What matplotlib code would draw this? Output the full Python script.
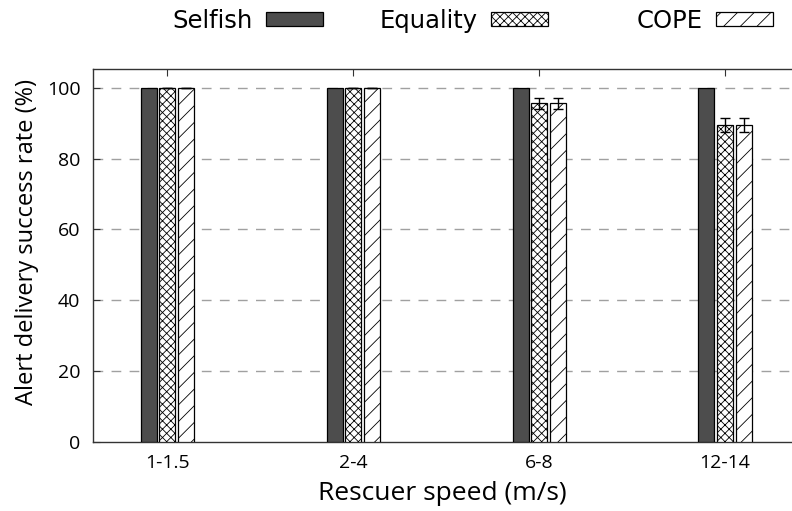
import numpy as np
import matplotlib
matplotlib.use('Agg')
import matplotlib.pyplot as plt
from matplotlib.patches import Patch

plt.rcParams['font.family'] = ['Open Sans', 'DejaVu Sans']
plt.rcParams['hatch.linewidth'] = 0.6

# data
speeds = ['1-1.5', '2-4', '6-8', '12-14']
selfish = [100, 100, 100, 100]
equality = [100, 100, 95.6, 89.5]
equality_err = [0, 0, 1.5, 1.9]
cope = [100, 100, 95.6, 89.5]
cope_err = [0, 0, 1.5, 1.9]

x = np.arange(len(speeds))
w = 0.086
step = 0.1

fig = plt.figure(figsize=(7.92, 5.11), dpi=100)
ax = fig.add_axes([93 / 792, 1 - 442 / 511, 1 - 93 / 792, (442 - 69) / 511])

ax.bar(x - step, selfish, w, color='#4d4d4d', edgecolor='black', linewidth=0.9, zorder=3)
ax.bar(x, equality, w, color='white', edgecolor='black', hatch='xxxx', linewidth=0.9, zorder=3)
ax.bar(x + step, cope, w, color='white', edgecolor='black', hatch='//', linewidth=0.9, zorder=3)
ax.errorbar(x, equality, yerr=equality_err, fmt='none', ecolor='black', elinewidth=1, capsize=3.6, capthick=1, zorder=4)
ax.errorbar(x + step, cope, yerr=cope_err, fmt='none', ecolor='black', elinewidth=1, capsize=3.6, capthick=1, zorder=4)

ax.set_xlim(-0.4, 3.36)
ax.set_ylim(0, 105.3)
ax.set_xticks(x)
ax.set_xticklabels(speeds)
ax.set_yticks([0, 20, 40, 60, 80, 100])
ax.tick_params(direction='in', labelsize=14, length=5, color='#333333', top=True, right=False)
ax.tick_params(axis='x', pad=9)
ax.tick_params(axis='y', pad=9)

for y in [20, 40, 60, 80, 100]:
    ax.axhline(y, color='#a0a0a0', linewidth=1, linestyle=(0, (7, 6)), zorder=1)

for s in ['left', 'top', 'bottom']:
    ax.spines[s].set_color('#333333')
    ax.spines[s].set_linewidth(1)
ax.spines['right'].set_visible(False)

ax.set_xlabel('Rescuer speed (m/s)', fontsize=19, labelpad=6)
ax.set_ylabel('Alert delivery success rate (%)', fontsize=17)
ax.yaxis.set_label_coords(-0.077, 0.536)

# gnuplot-style key: label then sample, one legend per entry
handles = [
    Patch(facecolor='#4d4d4d', edgecolor='black', linewidth=0.9),
    Patch(facecolor='white', edgecolor='black', hatch='xxxx', linewidth=0.9),
    Patch(facecolor='white', edgecolor='black', hatch='//', linewidth=0.9),
]
labels = ['Selfish', 'Equality', 'COPE']
ends = [323, 548, 773]
for h, lab, xe in zip(handles, labels, ends):
    leg = fig.legend([h], [lab], loc='center right', bbox_to_anchor=(xe / 792, 1 - 21 / 511),
                     frameon=False, markerfirst=False, handlelength=2.35,
                     handleheight=0.5, handletextpad=0.55, borderpad=0, borderaxespad=0,
                     prop={'family': 'DejaVu Sans', 'size': 17.5})

fig.savefig('out.png', dpi=100)
